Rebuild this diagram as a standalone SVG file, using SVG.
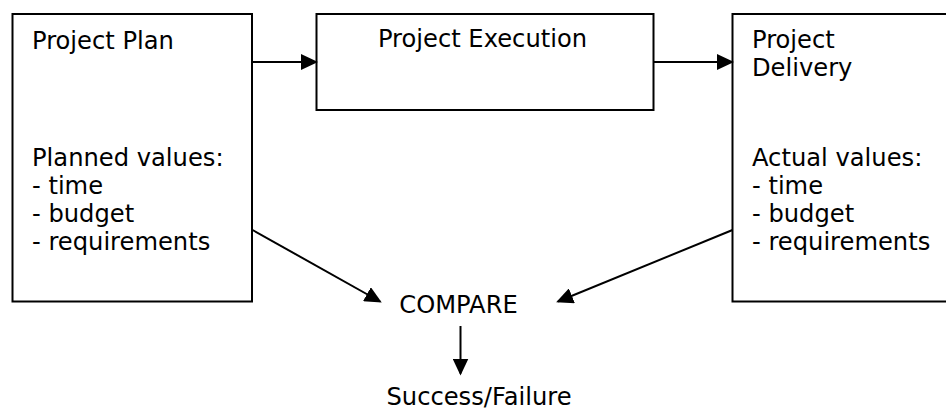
<svg xmlns="http://www.w3.org/2000/svg" width="946" height="410" viewBox="0 0 946 410">
<style>
  .box { fill: #fff; stroke: #000; stroke-width: 2; }
  .t { font-family: "DejaVu Sans", Verdana, sans-serif; font-size: 24.2px; fill: #000; }
  .c { stroke: #000; stroke-width: 2; fill: none; marker-end: url(#ah); }
</style>
<defs>
  <marker id="ah" markerUnits="userSpaceOnUse" markerWidth="17" markerHeight="16" refX="15" refY="8" orient="auto">
    <path d="M0,0 L17,8 L0,16 z" fill="#000"/>
  </marker>
</defs>
<rect width="946" height="410" fill="#fff"/>
<g id="plan">
  <rect class="box" x="12.5" y="14" width="239.5" height="287.5"/>
  <text class="t" x="32" y="49">Project Plan</text>
  <text class="t" x="32" y="166">Planned values:</text>
  <text class="t" x="32" y="194">- time</text>
  <text class="t" x="32" y="222">- budget</text>
  <text class="t" x="32" y="250">- requirements</text>
</g>
<g id="execution">
  <rect class="box" x="316.5" y="14" width="337" height="96"/>
  <text class="t" x="482.5" y="47" text-anchor="middle">Project Execution</text>
</g>
<g id="delivery">
  <rect class="box" x="732.5" y="14" width="216" height="287.5"/>
  <text class="t" x="752" y="48">Project</text>
  <text class="t" x="752" y="76">Delivery</text>
  <text class="t" x="752" y="166">Actual values:</text>
  <text class="t" x="752" y="194">- time</text>
  <text class="t" x="752" y="222">- budget</text>
  <text class="t" x="752" y="250">- requirements</text>
</g>
<g id="compare">
  <text class="t" x="458.5" y="313" text-anchor="middle">COMPARE</text>
</g>
<g id="result">
  <text class="t" x="479" y="405" text-anchor="middle">Success/Failure</text>
</g>
<g id="connectors">
  <line class="c" x1="253" y1="62" x2="316" y2="62"/>
  <line class="c" x1="654" y1="62" x2="732" y2="62"/>
  <line class="c" x1="252.5" y1="230" x2="380" y2="301.5"/>
  <line class="c" x1="732.5" y1="230" x2="558" y2="301.5"/>
  <line class="c" x1="460.5" y1="326" x2="460.5" y2="373.5"/>
</g>
</svg>
